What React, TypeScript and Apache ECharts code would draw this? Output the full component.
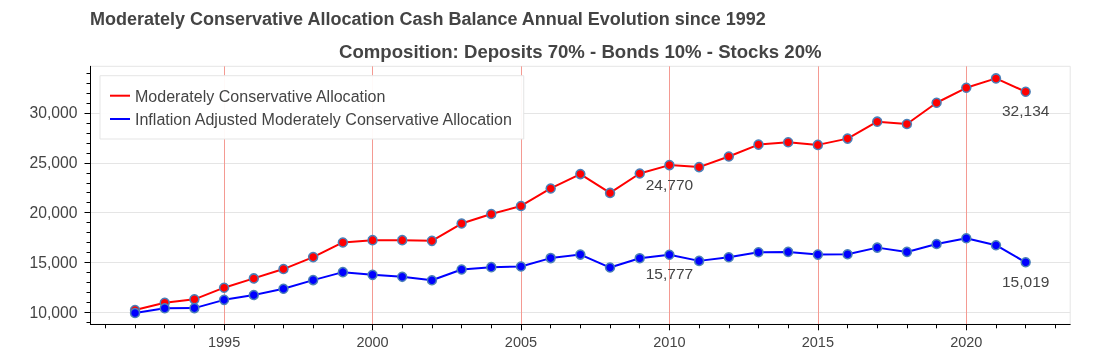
import { useEffect, useRef } from "react";
import * as echarts from "echarts";

const years = [
  1992, 1993, 1994, 1995, 1996, 1997, 1998, 1999, 2000, 2001, 2002, 2003, 2004, 2005, 2006, 2007,
  2008, 2009, 2010, 2011, 2012, 2013, 2014, 2015, 2016, 2017, 2018, 2019, 2020, 2021, 2022,
];
const balance = [
  10230, 10960, 11300, 12470, 13400, 14340, 15540, 17010, 17240, 17240, 17170, 18910, 19870, 20670,
  22430, 23870, 21980, 23930, 24770, 24570, 25630, 26830, 27070, 26800, 27430, 29130, 28900, 31030,
  32530, 33470, 32134,
];
const inflationAdjusted = [
  9930, 10400, 10420, 11250, 11730, 12360, 13230, 14030, 13760, 13560, 13220, 14290, 14530, 14590,
  15440, 15790, 14490, 15430, 15777, 15160, 15530, 16030, 16060, 15790, 15830, 16490, 16060, 16860,
  17430, 16730, 15019,
];
const labelYears = [2010, 2022];
const seriesNames = [
  "Moderately Conservative Allocation",
  "Inflation Adjusted Moderately Conservative Allocation",
];
const titleText = "Moderately Conservative Allocation Cash Balance Annual Evolution since 1992";
const subtitleText = "Composition: Deposits 70% - Bonds 10% - Stocks 20%";
const xMajorTicks = [1995, 2000, 2005, 2010, 2015, 2020];
const xMinorTicks = [
  1991, 1992, 1993, 1994, 1995, 1996, 1997, 1998, 1999, 2000, 2001, 2002, 2003, 2004, 2005, 2006, 2007,
  2008, 2009, 2010, 2011, 2012, 2013, 2014, 2015, 2016, 2017, 2018, 2019, 2020, 2021, 2022, 2023,
];
const yMajorTicks = [10000, 15000, 20000, 25000, 30000];
const yMinorTicks = [
  9000, 10000, 11000, 12000, 13000, 14000, 15000, 16000, 17000, 18000, 19000, 20000, 21000, 22000,
  23000, 24000, 25000, 26000, 27000, 28000, 29000, 30000, 31000, 32000, 33000, 34000,
];

const FONT = "'Liberation Sans', Arial, Helvetica, sans-serif";
const TEXT = "#444444";
const X_MIN = 1990.5;
const X_MAX = 2023.5;
const Y_MIN = 8796;
const Y_MAX = 34686;

const fmt = (v: number) => Math.round(v).toLocaleString("en-US");

function buildData(values: number[]) {
  return years.map((y, i) => ({
    value: [y, values[i]],
    label: { show: labelYears.includes(y) },
  }));
}

export default function App() {
  const ref = useRef<HTMLDivElement>(null);
  useEffect(() => {
    const chart = echarts.init(ref.current!, null, { renderer: "svg" });
    const lineSeries = (name: string, color: string, values: number[]) => ({
      name,
      type: "line",
      xAxisIndex: 0,
      yAxisIndex: 0,
      data: buildData(values),
      symbol: "circle",
      symbolSize: 9,
      showSymbol: true,
      color,
      lineStyle: { color, width: 2 },
      itemStyle: { color, borderColor: "#4a80b8", borderWidth: 1.5 },
      label: {
        show: false,
        position: "bottom",
        distance: 6,
        fontSize: 15.5,
        fontFamily: FONT,
        color: TEXT,
        formatter: (p: any) => fmt(p.value[1]),
      },
      emphasis: { disabled: true },
    });
    const option: any = {
      animation: false,
      textStyle: { fontFamily: FONT },
      title: [
        {
          text: titleText,
          left: 90,
          top: 9.5,
          padding: 0,
          textStyle: { fontFamily: FONT, fontSize: 18, fontWeight: "bold", color: TEXT, lineHeight: 18 },
        },
        {
          text: subtitleText,
          left: 339,
          top: 41.5,
          padding: 0,
          textStyle: { fontFamily: FONT, fontSize: 18.6, fontWeight: "bold", color: TEXT, lineHeight: 19 },
        },
      ],
      legend: {
        orient: "vertical",
        left: 100,
        top: 75.7,
        icon: "rect",
        itemWidth: 20,
        itemHeight: 2,
        itemGap: 7.3,
        padding: [12, 10, 12, 10],
        backgroundColor: "rgba(255,255,255,0.95)",
        borderColor: "#e5e5e5",
        borderWidth: 1,
        itemStyle: { borderWidth: 0 },
        textStyle: { color: TEXT, fontSize: 16.05, fontFamily: FONT, lineHeight: 16 },
        data: seriesNames,
        selectedMode: false,
      },
      grid: {
        left: 90.5,
        right: 29.8,
        top: 66.3,
        bottom: 25.7,
        show: true,
        borderColor: "#e5e5e5",
        borderWidth: 1,
        backgroundColor: "transparent",
      },
      xAxis: [
        {
          type: "value",
          min: X_MIN,
          max: X_MAX,
          position: "bottom",
          axisLine: { show: true, lineStyle: { color: "#000", width: 1 } },
          axisTick: { show: true, customValues: xMinorTicks, length: 4, lineStyle: { color: "#000" } },
          axisLabel: { show: false },
          splitLine: { show: false },
        },
        {
          type: "value",
          min: X_MIN,
          max: X_MAX,
          position: "bottom",
          axisLine: { show: false },
          axisTick: { show: true, customValues: xMajorTicks, length: 6, lineStyle: { color: "#000" } },
          axisLabel: {
            show: true,
            customValues: xMajorTicks,
            margin: 10,
            fontSize: 14.5,
            fontFamily: FONT,
            color: TEXT,
            formatter: (v: number) => String(v),
          },
          splitLine: { show: true, lineStyle: { color: "#f49a92", width: 1 } },
        },
      ],
      yAxis: [
        {
          type: "value",
          min: Y_MIN,
          max: Y_MAX,
          position: "left",
          axisLine: { show: true, lineStyle: { color: "#000", width: 1 } },
          axisTick: { show: true, customValues: yMinorTicks, length: 4, lineStyle: { color: "#000" } },
          axisLabel: { show: false },
          splitLine: { show: false },
        },
        {
          type: "value",
          min: Y_MIN,
          max: Y_MAX,
          position: "left",
          axisLine: { show: false },
          axisTick: { show: true, customValues: yMajorTicks, length: 6, lineStyle: { color: "#000" } },
          axisLabel: {
            show: true,
            customValues: yMajorTicks,
            margin: 13,
            fontSize: 15.7,
            fontFamily: FONT,
            color: TEXT,
            formatter: (v: number) => fmt(v),
          },
          splitLine: { show: true, lineStyle: { color: "#e5e5e5", width: 1 } },
        },
      ],
      series: [
        lineSeries(seriesNames[0], "#ff0000", balance),
        lineSeries(seriesNames[1], "#0000ff", inflationAdjusted),
      ],
    };
    chart.setOption(option);
    return () => chart.dispose();
  }, []);
  return (
    <div
      ref={ref}
      style={{ position: "fixed", left: 0, top: 0, width: 1100, height: 350 }}
    />
  );
}
